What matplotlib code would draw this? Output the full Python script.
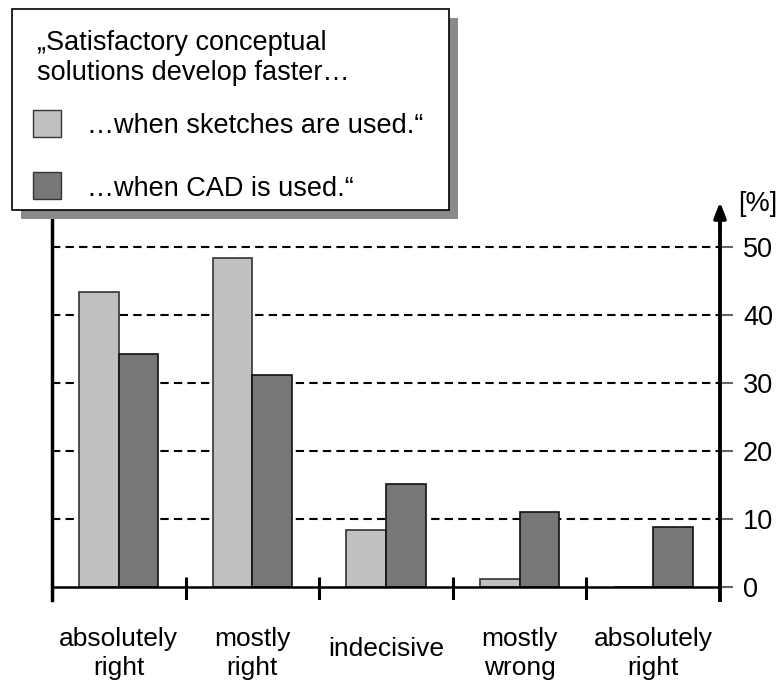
import matplotlib
matplotlib.use("Agg")
import matplotlib.pyplot as plt
from matplotlib.patches import Rectangle

plt.rcParams['font.family'] = ['Liberation Sans', 'DejaVu Sans']

categories = ["absolutely\nright", "mostly\nright", "indecisive", "mostly\nwrong", "absolutely\nright"]
sketches = [43.4, 48.3, 8.4, 1.1, 0.0]
cad = [34.2, 31.1, 15.1, 11.0, 8.8]
y_ticks = [0, 10, 20, 30, 40, 50]
legend_title = "\u201eSatisfactory conceptual\nsolutions develop faster\u2026"
legend_labels = ["\u2026when sketches are used.\u201c", "\u2026when CAD is used.\u201c"]

LIGHT = "#c0c0c0"
DARK = "#777777"

W, H = 779, 682
fig = plt.figure(figsize=(W / 100, H / 100), dpi=100)

def px(x, y):
    return x / W, 1 - y / H

# axes frame: x from 52 to 720 px, y from 600 (bottom) to 202 (arrow tip)
x0, x1 = 52, 720
y_zero, y_bot, y_top = 586.7, 600, 202
ppu = 6.8  # pixels per percent
ax = fig.add_axes([x0 / W, 1 - y_bot / H, (x1 - x0) / W, (y_bot - y_top) / H])
ax.set_xlim(0, len(categories))
ax.set_ylim(-(y_bot - y_zero) / ppu, (y_zero - y_top) / ppu)

# dashed grid
for v in y_ticks[1:]:
    ax.axhline(v, color="black", lw=1.5, linestyle=(0, (4, 2.5)), zorder=1)

# bars
w = 0.296
xs = [i + 0.5 for i in range(len(categories))]
ax.bar([x - w for x in xs], sketches, width=w, align="edge", color=LIGHT,
       edgecolor="#333333", linewidth=1.2, zorder=3)
ax.bar(xs, cad, width=w, align="edge", color=DARK,
       edgecolor="#111111", linewidth=1.2, zorder=3)

# baseline and group separators
ax.axhline(0, color="black", lw=1.8, zorder=4)
ax.vlines(range(len(categories) + 1), ax.get_ylim()[0], 10 / ppu,
          color="black", lw=2.2, zorder=4)

for s in ["top", "bottom"]:
    ax.spines[s].set_visible(False)
ax.spines["left"].set_linewidth(2.5)
ax.spines["left"].set_bounds(ax.get_ylim()[0], (y_zero - 215) / ppu)
ax.spines["right"].set_linewidth(2.8)
ax.spines["right"].set_bounds(ax.get_ylim()[0], ax.get_ylim()[1] - 2.5)
ax.spines["right"].set_zorder(5)

# arrow head on the value axis
ax.annotate("", xy=(1, 1), xycoords="axes fraction",
            xytext=(1, 1 - 22 / (y_bot - y_top)), textcoords="axes fraction",
            arrowprops=dict(arrowstyle="-|>,head_length=0.9,head_width=0.35",
                            color="black", lw=2.8, shrinkA=0, shrinkB=0),
            zorder=6)

ax.yaxis.tick_right()
ax.set_yticks(y_ticks)
ax.set_yticklabels([str(t) for t in y_ticks], fontsize=19.5)
ax.tick_params(axis="y", direction="out", length=9.5, width=1.5, color="#666666", pad=7)
ax.set_xticks([])

ax.text(1.0 + 18 / (x1 - x0), 1.0 - 2 / (y_bot - y_top), "[%]", transform=ax.transAxes,
        fontsize=19.5, ha="left", va="center")

# category labels under each group, one text per line
for x, lab in zip(xs, categories):
    lines = lab.split("\n")
    bases = [646, 675] if len(lines) == 2 else [656]
    for line, b in zip(lines, bases):
        ax.text(x, -(b - y_zero) / ppu, line, ha="center", va="baseline", fontsize=19)

# legend box with drop shadow
bx0, by0, bx1, by1 = 12, 9, 449, 210
sh = 9
fig.patches.append(Rectangle(px(bx0 + sh, by1 + sh), (bx1 - bx0) / W, (by1 - by0) / H,
                             transform=fig.transFigure, facecolor="#8a8a8a",
                             edgecolor="none", zorder=10))
fig.patches.append(Rectangle(px(bx0, by1), (bx1 - bx0) / W, (by1 - by0) / H,
                             transform=fig.transFigure, facecolor="white",
                             edgecolor="black", linewidth=1.2, zorder=11))
fig.text(*px(37, 50), legend_title.split("\n")[0], fontsize=19.5, va="baseline", zorder=12)
fig.text(*px(37, 80), legend_title.split("\n")[1], fontsize=19.5, va="baseline", zorder=12)
for (col, lab, sy, base) in [(LIGHT, legend_labels[0], 110, 133), (DARK, legend_labels[1], 172, 196)]:
    fig.patches.append(Rectangle(px(33, sy + 27), 28 / W, 27 / H, transform=fig.transFigure,
                                 facecolor=col, edgecolor="#333333", linewidth=1.0, zorder=12))
    fig.text(*px(87, base), lab, fontsize=19.5, va="baseline", zorder=12)

fig.savefig("out.png", dpi=100)
